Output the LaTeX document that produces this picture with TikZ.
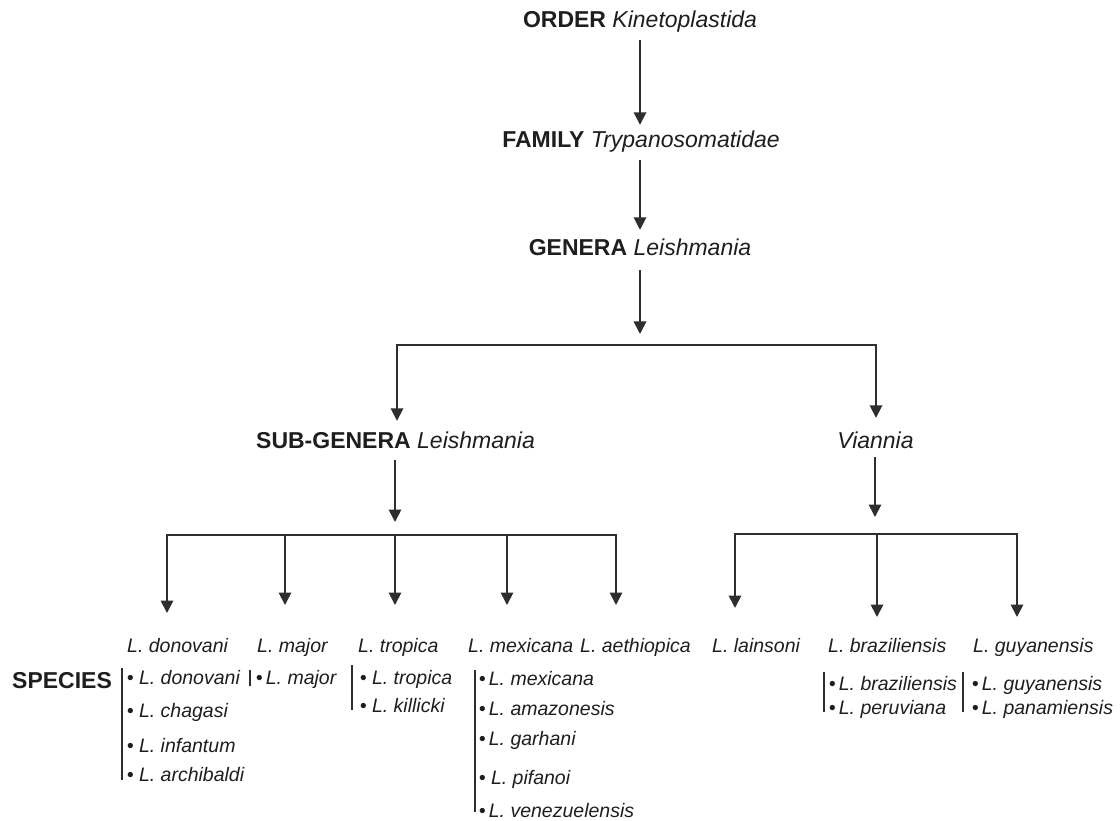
\documentclass[tikz,border=0pt]{standalone}
\usepackage{fontspec}
\setmainfont{Liberation Sans}
\usetikzlibrary{arrows.meta}
\definecolor{ink}{HTML}{1E1E1E}
\definecolor{lncol}{HTML}{2E2E2E}
\begin{document}
\begin{tikzpicture}[x=1pt,y=-1pt,
  big/.style={inner sep=0pt,anchor=base,text height=17pt,text depth=5pt,font=\fontsize{23}{27}\selectfont,text=ink},
  sp/.style={inner sep=0pt,anchor=base west,font=\fontsize{19.5}{23}\selectfont\itshape,text=ink},
  conn/.style={draw=lncol,line width=1.8pt},
  arr/.style={conn,-{Triangle[width=12.5pt,length=12.5pt]}},
  dbl/.style={conn,{Triangle[width=12.5pt,length=12.5pt]}-{Triangle[width=12.5pt,length=12.5pt]}},
  bar/.style={draw=lncol,line width=1.6pt}]
\useasboundingbox[fill=white] (0,0) rectangle (1120,821);

% upper hierarchy
\node[big] (order) at (640,28) {\bfseries ORDER \mdseries\itshape Kinetoplastida};
\node[big] (family) at (641,148) {\bfseries FAMILY \mdseries\itshape Trypanosomatidae};
\node[big] (genera) at (640,256) {\bfseries GENERA \mdseries\itshape Leishmania};
\node[big] (subgen) at (395.5,448) {\bfseries SUB-GENERA \mdseries\itshape Leishmania};
\node[big] (vian) at (875.5,448) {\itshape Viannia};

\draw[arr,shorten <=7pt,shorten >=6pt] (order.south) -- (order.south |- family.north);
\draw[arr,shorten <=7pt,shorten >=9pt] (family.south -| order.south) -- (order.south |- genera.north);
\coordinate (gtip) at (640,334);
\draw[arr,shorten <=9pt] (genera.south) -- (gtip);

\coordinate (busL) at (397,345);
\coordinate (busR) at (876,345);
\draw[dbl,shorten <=10pt,shorten >=13pt] (busL |- subgen.north) -- (busL) -- (busR) -- (busR |- vian.north);

% Leishmania sub-genus branches
\coordinate (sgt) at (395,522);
\draw[arr,shorten <=7pt] (subgen.south -| sgt) -- (sgt);
\coordinate (b1) at (167,535);
\coordinate (b2) at (285,535);
\coordinate (b3) at (395,535);
\coordinate (b4) at (507,535);
\coordinate (b5) at (616,535);
\coordinate (a1) at (167,613);
\coordinate (a2) at (285,605);
\coordinate (a3) at (395,605);
\coordinate (a4) at (507,605);
\coordinate (a5) at (616,605);
\draw[dbl] (a1) -- (b1) -- (b5) -- (a5);
\draw[arr] (b2) -- (a2);
\draw[arr] (b3) -- (a3);
\draw[arr] (b4) -- (a4);

% Viannia branches
\coordinate (vt) at (875,517);
\draw[arr,shorten <=4pt] (vian.south -| vt) -- (vt);
\coordinate (c1) at (735,534);
\coordinate (c2) at (877,534);
\coordinate (c3) at (1017,534);
\coordinate (d1) at (735,608);
\coordinate (d2) at (877,617);
\coordinate (d3) at (1017,617);
\draw[dbl] (d1) -- (c1) -- (c3) -- (d3);
\draw[arr] (c2) -- (d2);

% species headers
\node[sp] (hdon) at (127,652) {L. donovani};
\node[sp] (hmaj) at (257,652) {L. major};
\node[sp] (htro) at (358,652) {L. tropica};
\node[sp] (hmex) at (468,652) {L. mexicana};
\node[sp] (haet) at (580,652) {L. aethiopica};
\node[sp] (hlai) at (712,652) {L. lainsoni};
\node[sp] (hbra) at (828,652) {L. braziliensis};
\node[sp] (hguy) at (973,652) {L. guyanensis};

\node[big,anchor=base west] (species) at (12,688) {\bfseries SPECIES};

% species lists
\node[sp] (don1) at (126.6,684) {\textbullet{} L. donovani};
\node[sp] (don2) at (126.6,717) {\textbullet{} L. chagasi};
\node[sp] (don3) at (126.6,752) {\textbullet{} L. infantum};
\node[sp] (don4) at (126.6,781) {\textbullet{} L. archibaldi};
\draw[bar] (122,668) -- (122,780);

\node[sp] (maj1) at (255.6,684) {\textbullet\,L. major};
\draw[bar] (250,670) -- (250,686);

\node[sp] (tro1) at (359.6,684) {\textbullet{} L. tropica};
\node[sp] (tro2) at (359.6,712) {\textbullet{} L. killicki};
\draw[bar] (352,665) -- (352,710);

\node[sp] (mex1) at (478.6,685) {\textbullet\,L. mexicana};
\node[sp] (mex2) at (478.6,715) {\textbullet\,L. amazonesis};
\node[sp] (mex3) at (478.6,745) {\textbullet\,L. garhani};
\node[sp] (mex4) at (478.6,784) {\textbullet{} L. pifanoi};
\node[sp] (mex5) at (478.6,817) {\textbullet\,L. venezuelensis};
\draw[bar] (475,670) -- (475,812);

\node[sp] (bra1) at (828.6,690) {\textbullet\,L. braziliensis};
\node[sp] (bra2) at (828.6,714) {\textbullet\,L. peruviana};
\draw[bar] (824,672) -- (824,712);

\node[sp] (guy1) at (971.6,690) {\textbullet\,L. guyanensis};
\node[sp] (guy2) at (971.6,714) {\textbullet\,L. panamiensis};
\draw[bar] (963,672) -- (963,712);
\end{tikzpicture}
\end{document}
